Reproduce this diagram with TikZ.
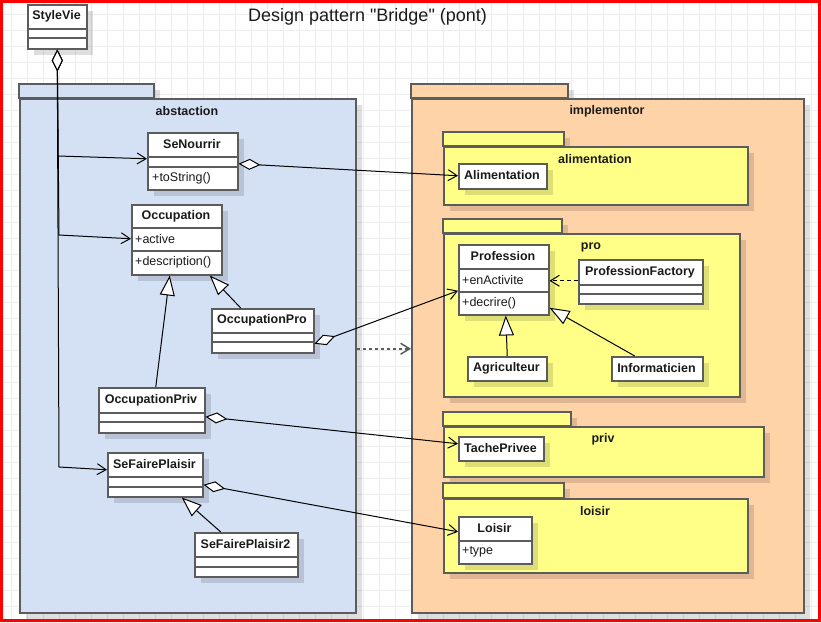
\documentclass[tikz,border=0pt]{standalone}
\usepackage{fontspec}
\setmainfont{Liberation Sans}[Ligatures=TeXOff]
\usetikzlibrary{arrows.meta}
\definecolor{strk}{HTML}{5C5C5C}
\definecolor{absf}{HTML}{D4E1F5}
\definecolor{impf}{HTML}{FFD3A8}
\definecolor{yel}{HTML}{FFFF88}
\definecolor{gridc}{HTML}{EDEDED}
\definecolor{txt}{HTML}{1A1A1A}
\newcommand\fcls{\fontsize{12.5}{14}\selectfont\bfseries}
\newcommand\fatt{\fontsize{12.5}{14}\selectfont}
\tikzset{
  shad/.style={preaction={fill=black,opacity=0.13,transform canvas={shift={(6pt,-6pt)}}}},
  cls/.style={draw=strk,fill=white,line width=1.5pt,inner sep=0pt,anchor=north west,shad},
  pkgtab/.style={draw=strk,line width=1.5pt,shad},
  pkgbody/.style={draw=strk,line width=1.5pt,inner sep=0pt,anchor=north west,shad},
  cname/.style={font=\fcls,text=txt,inner sep=0pt},
  attr/.style={font=\fatt,text=txt,inner sep=0pt,anchor=west},
  plabel/.style={font=\fcls,text=txt,inner sep=0pt},
  sepline/.style={draw=strk,line width=1.5pt},
  conn/.style={draw=black,line width=1pt},
  agg/.style={conn,{Diamond[fill=white,length=22pt,width=11pt]}-{Straight Barb[length=9pt,width=11pt]}},
  gen/.style={conn,-{Triangle[fill=white,length=20pt,width=15pt]}},
  dep/.style={conn,dashed,dash pattern=on 4pt off 3pt,-{Straight Barb[length=9pt,width=11pt]}},
}
\begin{document}
\begin{tikzpicture}[x=1pt,y=-1pt]
\useasboundingbox (0,0) rectangle (821,622);
\fill[white] (0,0) rectangle (821,622);
\foreach \x in {11,27,...,811} \draw[gridc,line width=1pt] (\x,0) -- (\x,622);
\foreach \y in {14,30,...,622} \draw[gridc,line width=1pt] (0,\y) -- (821,\y);
\draw[red,line width=2.6pt] (1.3,1.3) rectangle (819.4,620.4);

% title
\node[font=\fontsize{18}{20}\selectfont,text=txt,inner sep=0pt] (title) at (367.5,17) {Design pattern "Bridge" (pont)};

% packages
\fill[absf,pkgtab] (19,84) rectangle (154,98);
\node[pkgbody,fill=absf,minimum width=336pt,minimum height=514pt] (abs) at (19,98) {};
\node[plabel] at (187,111.5) {abstaction};

\fill[impf,pkgtab] (411,84) rectangle (568,98);
\node[pkgbody,fill=impf,minimum width=392pt,minimum height=514pt] (imp) at (411,98) {};
\node[plabel] at (607,111.5) {implementor};

\fill[yel,pkgtab] (443,132) rectangle (564,146);
\node[pkgbody,fill=yel,minimum width=304pt,minimum height=58pt] (palim) at (443,146) {};
\node[plabel] at (595,159) {alimentation};

\fill[yel,pkgtab] (443,219) rectangle (562,233);
\node[pkgbody,fill=yel,minimum width=296pt,minimum height=163pt] (ppro) at (443,233) {};
\node[plabel] at (591,247) {pro};

\fill[yel,pkgtab] (443,412) rectangle (571,426);
\node[pkgbody,fill=yel,minimum width=320pt,minimum height=50pt] (ppriv) at (443,426) {};
\node[plabel] at (603,439) {priv};

\fill[yel,pkgtab] (443,483) rectangle (564,498);
\node[pkgbody,fill=yel,minimum width=304pt,minimum height=74pt] (ploisir) at (443,498) {};
\node[plabel] at (595,511) {loisir};

% classes
\node[cls,minimum width=59pt,minimum height=44pt] (sv) at (27,4) {};
\node[cname] at (56.5,16.5) {StyleVie};
\draw[sepline] (27,29) -- (86,29) (27,38) -- (86,38);

\node[cls,minimum width=90pt,minimum height=57pt] (sn) at (147,132) {};
\node[cname] at (192,144.5) {SeNourrir};
\draw[sepline] (147,157) -- (237,157) (147,167) -- (237,167);
\node[attr] at (152,178) {+toString()};

\node[cls,minimum width=90pt,minimum height=70pt] (occ) at (131,204) {};
\node[cname] at (176,216) {Occupation};
\draw[sepline] (131,228) -- (221,228) (131,251) -- (221,251);
\node[attr] at (135,239.5) {+active};
\node[attr] at (135,262.5) {+description()};

\node[cls,minimum width=102pt,minimum height=44pt] (op) at (211,308) {};
\node[cname] at (262,320.5) {OccupationPro};
\draw[sepline] (211,333) -- (313,333) (211,342) -- (313,342);

\node[cls,minimum width=106pt,minimum height=45pt] (opv) at (98,387) {};
\node[cname] at (151,400) {OccupationPriv};
\draw[sepline] (98,413) -- (204,413) (98,422) -- (204,422);

\node[cls,minimum width=95pt,minimum height=44pt] (sfp) at (107,452) {};
\node[cname] at (154.5,464.5) {SeFairePlaisir};
\draw[sepline] (107,477) -- (202,477) (107,487) -- (202,487);

\node[cls,minimum width=103pt,minimum height=44pt] (sfp2) at (194,532) {};
\node[cname] at (245.5,544.5) {SeFairePlaisir2};
\draw[sepline] (194,557) -- (297,557) (194,567) -- (297,567);

\node[cls,minimum width=88pt,minimum height=25pt] (al) at (458,163) {};
\node[cname] at (502,175.5) {Alimentation};

\node[cls,minimum width=90pt,minimum height=70pt] (prof) at (458,244) {};
\node[cname] at (503,256.5) {Profession};
\draw[sepline] (458,269) -- (548,269) (458,292) -- (548,292);
\node[attr] at (462,280.5) {+enActivite};
\node[attr] at (462,303) {+decrire()};

\node[cls,minimum width=124pt,minimum height=44pt] (pf) at (578,259) {};
\node[cname] at (640,272) {ProfessionFactory};
\draw[sepline] (578,285) -- (702,285) (578,294) -- (702,294);

\node[cls,minimum width=79pt,minimum height=24pt] (ag) at (467,356) {};
\node[cname] at (506.5,368) {Agriculteur};

\node[cls,minimum width=91pt,minimum height=24pt] (inf) at (611,356) {};
\node[cname] at (656.5,368) {Informaticien};

\node[cls,minimum width=85pt,minimum height=24pt] (tp) at (458,436) {};
\node[cname] at (500.5,448) {TachePrivee};

\node[cls,minimum width=73pt,minimum height=47pt] (lo) at (458,516) {};
\node[cname] at (494.5,528.5) {Loisir};
\draw[sepline] (458,541) -- (531,541);
\node[attr] at (462,552) {+type};

% connectors
\coordinate (b1) at (58,156);
\coordinate (b2) at (59,235);
\coordinate (b3) at (59,467);
\draw[agg] (sv.south) -- (b1) -- ([yshift=2.5pt]sn.west);
\draw[agg] (sv.south) -- (b2) -- ([yshift=1pt]occ.west);
\draw[agg] (sv.south) -- (b3) -- ([yshift=5pt]sfp.west);

\draw[agg] ([yshift=-2.5pt]sn.east) -- ([yshift=0.5pt]al.west);
\draw[agg] ([yshift=-13pt]op.east) -- ([yshift=-11pt]prof.west);
\draw[agg] ([yshift=-6.5pt]opv.east) -- ([yshift=5pt]tp.west);
\draw[agg] ([yshift=-10pt]sfp.east) -- ([yshift=8.5pt]lo.west);

\draw[gen] ([xshift=4pt]opv.north) -- ([xshift=-7pt]occ.south);
\draw[gen] ([xshift=-22pt]op.north) -- ([xshift=33pt]occ.south);
\draw[gen] ([xshift=-25.5pt]sfp2.north) -- ([xshift=26.5pt]sfp.south);
\draw[gen] (ag.north) -- ([xshift=2pt]prof.south);
\draw[gen] ([xshift=-22.5pt]inf.north) -- ([yshift=-28pt]prof.east);

\draw[dep] ([yshift=1pt]pf.west) -- ([yshift=-1pt]prof.east);
\draw[dep,draw=strk,dash pattern=on 3pt off 3pt,line width=1.5pt] ([yshift=7pt]abs.east) -- ([yshift=7pt]imp.west);
\end{tikzpicture}
\end{document}
